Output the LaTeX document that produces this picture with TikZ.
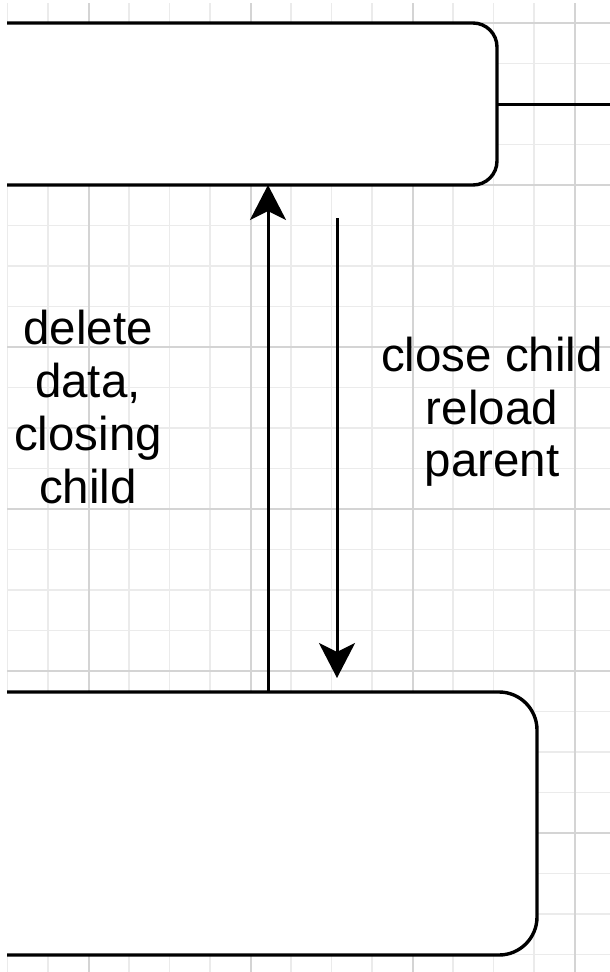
\documentclass[tikz,border=0pt]{standalone}
\usepackage{fontspec}
\setmainfont{Liberation Sans}
\usetikzlibrary{arrows.meta}
\definecolor{gridminor}{HTML}{EBEBEB}
\definecolor{gridmajor}{HTML}{D4D4D4}
\begin{document}
\begin{tikzpicture}[x=1pt,y=-1pt,line join=round,
  box/.style={draw=black,line width=3.4pt,fill=white,inner sep=0pt,outer sep=0pt},
  link/.style={draw=black,line width=3pt},
  arr/.style={link,-{Stealth[length=35pt,width=36pt,inset=9pt]}},
  lbl/.style={align=center,font=\fontsize{47.5}{52.7}\selectfont,inner sep=0pt}]
\useasboundingbox (0,0) rectangle (610,972);
\fill[white] (0,0) rectangle (610,972);
\begin{scope}
  \clip (7,3) rectangle (610,972);
  % minor grid
  \foreach \i in {0,...,15} \draw[gridminor,line width=1.4pt] ({7.5+40.5*\i},0) -- ({7.5+40.5*\i},972);
  \foreach \j in {0,...,24} \draw[gridminor,line width=1.4pt] (0,{-17.5+40.5*\j}) -- (610,{-17.5+40.5*\j});
  % major grid
  \foreach \i in {0,...,3} \draw[gridmajor,line width=1.4pt] ({89+162*\i},0) -- ({89+162*\i},972);
  \foreach \j in {0,...,5} \draw[gridmajor,line width=1.4pt] (0,{23+162*\j}) -- (610,{23+162*\j});
  % boxes
  \node[box,rounded corners=24pt,minimum width=547pt,minimum height=162pt] (top) at (223.5,104) {};
  \node[box,rounded corners=38pt,minimum width=587pt,minimum height=263pt] (bot) at (243.5,823.5) {};
\end{scope}
\coordinate (ux) at (268,0);
\coordinate (dstart) at (337,218);
\coordinate (dend) at (337,678);
\coordinate (rend) at (612,104);
\draw[link] (top.east) -- (rend);
\draw[arr] (ux |- bot.north) -- (ux |- top.south);
\draw[arr] (dstart) -- (dend);
\node[lbl] (lblL) at (88,407) {delete\\data,\\closing\\child};
\node[lbl] (lblR) at (492,412) {close child\\reload\\parent};
\end{tikzpicture}
\end{document}
